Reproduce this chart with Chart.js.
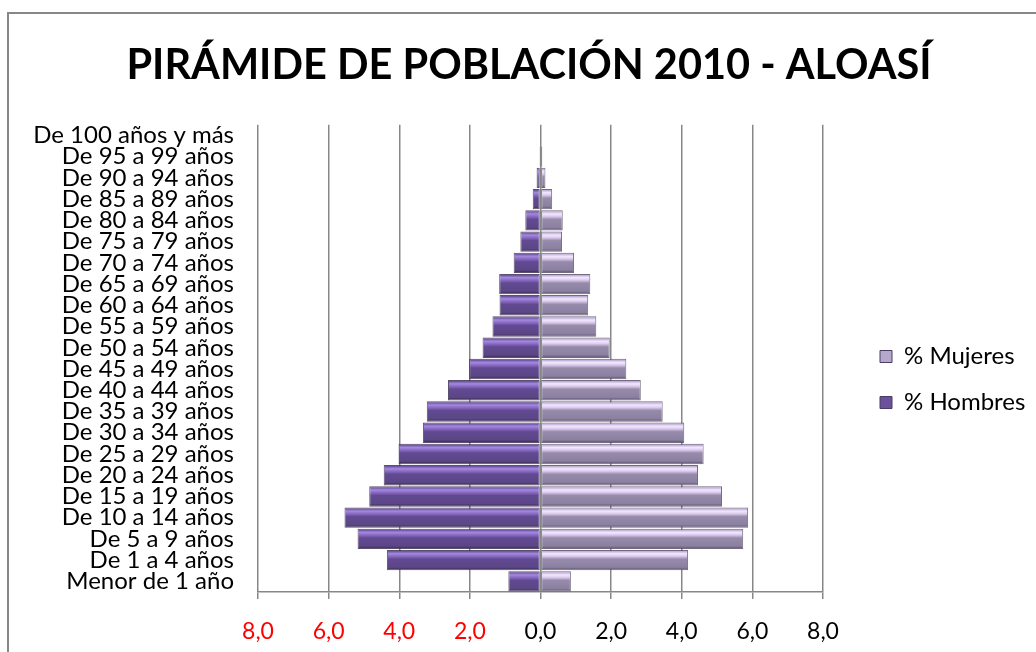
<!DOCTYPE html>
<html>
<head>
<meta charset="utf-8">
<script src="https://cdn.jsdelivr.net/npm/chart.js@4/dist/chart.umd.min.js"></script>
<style>
  html, body { margin: 0; padding: 0; background: #fff; overflow: hidden; width: 1036px; height: 652px; }
  #frame { position: absolute; left: 7px; top: 12px; width: 1200px; height: 800px; border-left: 2px solid #878787; border-top: 2px solid #878787; }
  #c { position: absolute; left: 0; top: 0; }
</style>
</head>
<body>
<div id="frame"></div>
<canvas id="c" width="1036" height="652"></canvas>
<script>
const chartTitle = 'PIRÁMIDE DE POBLACIÓN 2010 - ALOASÍ';
const categories = [
  'De 100 años y más', 'De 95 a 99 años', 'De 90 a 94 años', 'De 85 a 89 años',
  'De 80 a 84 años', 'De 75 a 79 años', 'De 70 a 74 años', 'De 65 a 69 años',
  'De 60 a 64 años', 'De 55 a 59 años', 'De 50 a 54 años', 'De 45 a 49 años',
  'De 40 a 44 años', 'De 35 a 39 años', 'De 30 a 34 años', 'De 25 a 29 años',
  'De 20 a 24 años', 'De 15 a 19 años', 'De 10 a 14 años', 'De 5 a 9 años',
  'De 1 a 4 años', 'Menor de 1 año'
];
const hombres = [0.0, 0.03, 0.11, 0.22, 0.43, 0.57, 0.76, 1.17, 1.16, 1.36, 1.64, 2.02, 2.62, 3.22, 3.33, 4.02, 4.44, 4.85, 5.55, 5.18, 4.35, 0.91];
const mujeres = [0.0, 0.05, 0.14, 0.33, 0.63, 0.61, 0.95, 1.41, 1.35, 1.58, 1.96, 2.43, 2.84, 3.46, 4.07, 4.62, 4.46, 5.14, 5.88, 5.74, 4.18, 0.86];
const xTicks = [-8, -6, -4, -2, 0, 2, 4, 6, 8];
const seriesNames = ['% Hombres', '% Mujeres'];

const hombresNeg = hombres.map(v => -v);

const maleStops = [[0,'#3f2e60'],[0.06,'#6a519e'],[0.18,'#a488de'],[0.3,'#8b6cc6'],[0.45,'#624a92'],[0.85,'#5b4686'],[0.94,'#45345f'],[1,'#34264a']];
const femaleStops = [[0,'#6d6283'],[0.06,'#b9aad2'],[0.18,'#f4e6ff'],[0.3,'#dccdee'],[0.45,'#978bab'],[0.85,'#8b809f'],[0.94,'#6a6080'],[1,'#544a66']];
const legendFills = ['#6a529a', '#b6a8cc'];
const BAR_PCT = 0.96;

function gradFor(stops, solid) {
  return function(ctx) {
    const chart = ctx.chart;
    const ys = chart.scales && chart.scales.y;
    if (!ys || ctx.dataIndex === undefined || !chart.chartArea) return solid;
    const cy = ys.getPixelForValue(ctx.dataIndex);
    const h = (ys.height / categories.length) * BAR_PCT;
    if (!isFinite(cy) || !isFinite(h)) return solid;
    const g = chart.ctx.createLinearGradient(0, cy - h / 2, 0, cy + h / 2);
    stops.forEach(s => g.addColorStop(s[0], s[1]));
    return g;
  };
}

const fmt = v => Math.abs(v).toFixed(1).replace('.', ',');

const LEGEND_W = 203, LEGEND_DX = 35, LEGEND_DY = 33;
const legendPlacer = {
  id: 'legendPlacer',
  beforeInit(chart) {
    const lg = chart.legend;
    if (!lg) return;
    const orig = lg.fit.bind(lg);
    lg.fit = function() { orig(); this.width = LEGEND_W; };
  },
  afterLayout(chart) {
    const lg = chart.legend;
    if (!lg) return;
    lg.left += LEGEND_DX; lg.right += LEGEND_DX;
    lg.top += LEGEND_DY; lg.bottom += LEGEND_DY;
  }
};

new Chart(document.getElementById('c'), {
  type: 'bar',
  data: {
    labels: categories,
    datasets: [
      { label: seriesNames[0], data: hombresNeg, backgroundColor: gradFor(maleStops, legendFills[0]), borderColor: 'rgba(50,36,72,0.8)', borderWidth: 1, borderSkipped: false },
      { label: seriesNames[1], data: mujeres, backgroundColor: gradFor(femaleStops, legendFills[1]), borderColor: 'rgba(80,70,96,0.8)', borderWidth: 1, borderSkipped: false }
    ]
  },
  plugins: [legendPlacer],
  options: {
    indexAxis: 'y',
    responsive: false,
    animation: false,
    barPercentage: BAR_PCT,
    categoryPercentage: 1,
    layout: { padding: { left: 32, right: 10, top: 41, bottom: 0 } },
    plugins: {
      title: {
        display: true, text: chartTitle, color: '#000',
        font: { family: 'Lato', weight: 'bold', size: 41.5, lineHeight: 1.2 },
        padding: { top: 0, bottom: 34 }
      },
      legend: {
        position: 'right', reverse: true,
        labels: {
          color: '#000', font: { family: 'Lato', size: 24 },
          boxWidth: 12, boxHeight: 12, padding: 22,
          generateLabels: chart => Chart.defaults.plugins.legend.labels.generateLabels(chart).map(it => {
            it.fillStyle = legendFills[it.datasetIndex];
            it.strokeStyle = '#4a3c66';
            it.lineWidth = 1;
            return it;
          })
        }
      },
      tooltip: { enabled: false }
    },
    scales: {
      x: {
        stacked: true, min: -8, max: 8,
        afterBuildTicks: s => { s.ticks = xTicks.map(v => ({ value: v })); },
        afterFit: s => { s.height = 60; },
        grid: { color: '#878787', lineWidth: 1.5, tickLength: 7, drawOnChartArea: true },
        border: { color: '#878787', width: 1.5 },
        ticks: {
          padding: 19, font: { family: 'Lato', size: 23 },
          color: c => (c.tick && c.tick.value < 0) ? '#ff0000' : '#000000',
          callback: v => fmt(v)
        }
      },
      y: {
        stacked: true,
        grid: { display: false },
        border: { display: false },
        afterFit: s => { s.width = 226; },
        ticks: { padding: 16, color: '#000', font: { family: 'Lato', size: 24, lineHeight: 1 }, autoSkip: false }
      }
    }
  }
});
</script>
</body>
</html>
